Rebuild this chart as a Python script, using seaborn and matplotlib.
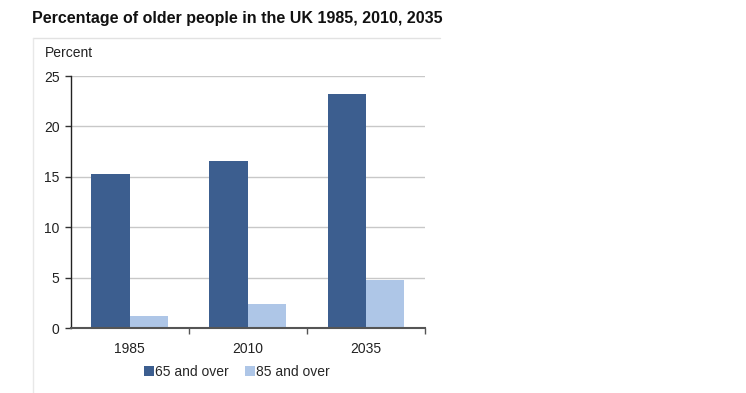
import matplotlib
matplotlib.use("Agg")
import matplotlib.pyplot as plt
import seaborn as sns
import pandas as pd
from matplotlib.lines import Line2D

years = ["1985", "2010", "2035"]
series_names = ["65 and over", "85 and over"]
over65 = [15.25, 16.6, 23.2]
over85 = [1.2, 2.4, 4.8]
yticks = [0, 5, 10, 15, 20, 25]

df = pd.DataFrame({
    "year": years * 2,
    "group": [series_names[0]] * 3 + [series_names[1]] * 3,
    "value": over65 + over85,
})

sns.set_theme(style="white")
plt.rcParams["font.family"] = ["Liberation Sans", "DejaVu Sans"]

fig = plt.figure(figsize=(7.46, 3.93), dpi=100)
# light frame: top and left edges only
fig.lines.append(Line2D([32.5 / 746, 440 / 746], [1 - 37.5 / 393, 1 - 37.5 / 393],
                        transform=fig.transFigure, color="#e2e2e2", linewidth=1))
fig.lines.append(Line2D([32.5 / 746, 32.5 / 746], [1 - 37.5 / 393, 0],
                        transform=fig.transFigure, color="#e8e8e8", linewidth=1))
ax = fig.add_axes([70.7 / 746, 1 - 328 / 393, (425 - 70.7) / 746, (328 - 76) / 393])

palette = {series_names[0]: "#3c5e8f", series_names[1]: "#aec6e7"}
sns.barplot(data=df, x="year", y="value", hue="group", order=years,
            hue_order=series_names, palette=palette, width=0.65,
            saturation=1, ax=ax, legend=True, linewidth=0)

ax.set_ylim(0, 25)
ax.set_xlim(-0.5, 2.5)
ax.set_yticks(yticks)
ax.set_yticklabels([str(t) for t in yticks], fontsize=10, color="#222222")
ax.set_xticks([0, 1, 2])
ax.set_xticklabels(years, fontsize=10, color="#222222")
ax.tick_params(axis="x", length=0, pad=10)
ax.tick_params(axis="y", length=4, width=1, color="#333333", left=True, pad=4)
# category boundary ticks on x axis
ax.set_xticks([0.5, 1.5, 2.5], minor=True)
ax.tick_params(axis="x", which="minor", length=4, width=1, color="#555555", bottom=True)
ax.yaxis.grid(True, color="#c8c8c8", linewidth=1)
ax.set_axisbelow(True)
ax.set_xlabel("")
ax.set_ylabel("")
for s in ["top", "right"]:
    ax.spines[s].set_visible(False)
ax.spines["left"].set_color("#222222")
ax.spines["left"].set_linewidth(1)
ax.spines["bottom"].set_color("#555555")
ax.spines["bottom"].set_linewidth(1.5)

leg = ax.get_legend()
handles, labels = ax.get_legend_handles_labels()
leg.remove()
fig.legend(handles, labels, loc="center", bbox_to_anchor=(237 / 746, 1 - 372 / 393),
           ncol=2, frameon=False, fontsize=10, handlelength=0.7, handleheight=0.7,
           handletextpad=0.1, columnspacing=1.2)

fig.text(32 / 746, 1 - 18 / 393, "Percentage of older people in the UK 1985, 2010, 2035",
         fontsize=11.5, fontweight="bold", ha="left", va="center", color="#111111")
fig.text(45 / 746, 1 - 53 / 393, "Percent", fontsize=10, ha="left", va="center",
         color="#222222")

fig.savefig("out.png", dpi=100)
